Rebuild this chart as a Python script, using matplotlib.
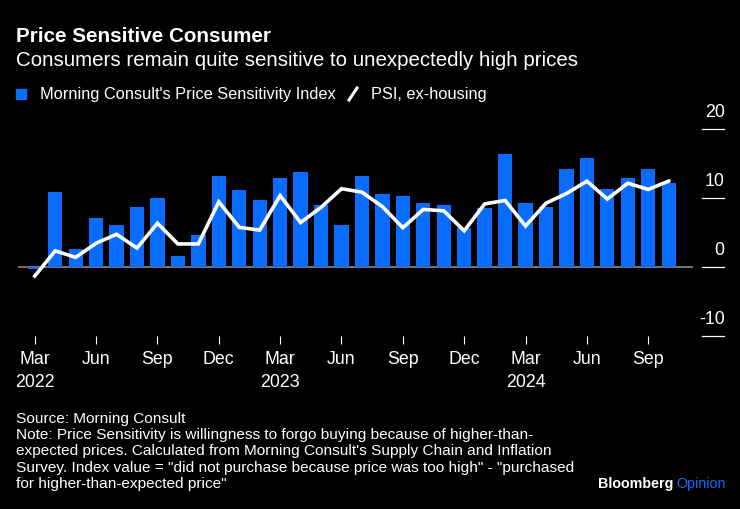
import matplotlib.pyplot as plt
from matplotlib.patches import Rectangle
from matplotlib.lines import Line2D
import matplotlib.transforms as mtransforms

plt.rcParams['font.family'] = ['Liberation Sans', 'DejaVu Sans']

# monthly, Mar 2022 .. Oct 2024
psi = [-0.3, 10.8, 2.6, 7.0, 6.0, 8.7, 10.0, 1.5, 4.6, 13.1, 11.1, 9.7,
       12.9, 13.7, 9.0, 6.0, 13.1, 10.6, 10.2, 9.3, 8.9, 5.6, 8.5, 16.4,
       9.3, 8.6, 14.2, 15.7, 11.2, 12.9, 14.1, 12.2]
psi_ex_housing = [-1.35, 2.3, 1.35, 3.4, 4.7, 2.7, 6.3, 3.3, 3.3, 9.4, 5.7, 5.3,
                  10.3, 6.4, 8.6, 11.3, 10.8, 8.7, 5.65, 8.3, 8.1, 5.2, 9.1, 9.6,
                  5.9, 9.2, 10.6, 12.4, 9.8, 12.1, 11.2, 12.4]
tick_labels = ['Mar\n2022', 'Jun', 'Sep', 'Dec', 'Mar\n2023', 'Jun', 'Sep', 'Dec',
               'Mar\n2024', 'Jun', 'Sep']
y_ticks = [-10, 0, 10, 20]

BLUE = '#0a6cff'
BG = '#000000'

fig = plt.figure(figsize=(7.4, 5.09), dpi=100, facecolor=BG)
ax = fig.add_axes([18/740, 1 - 335.7/509, 675/740, (335.7 - 128.7)/509])
ax.set_facecolor(BG)

x = list(range(len(psi)))
ax.bar(x, psi, width=0.7, color=BLUE, zorder=2)
ax.plot(x, psi_ex_housing, color='white', lw=2.6, zorder=3, solid_joinstyle='miter')
ax.axhline(0, color='#8a8a8a', lw=1.2, zorder=1)

ax.set_xlim(-0.82, 32.19)
ax.set_ylim(-10, 20)
for s in ax.spines.values():
    s.set_visible(False)

ax.set_xticks(list(range(0, 31, 3)))
ax.set_xticklabels(tick_labels, color='white', fontsize=12.8, linespacing=1.45)
ax.tick_params(axis='x', colors='white', length=6, width=0.8, pad=5, labelcolor='white')
ax.set_yticks([])

# right side y labels with short rule under each
trans = mtransforms.blended_transform_factory(ax.transAxes, ax.transData)
for v in y_ticks:
    ax.text(1.047, v + 1.1, str(v), transform=trans, ha='right', va='bottom',
            color='white', fontsize=12.8)
    ax.add_line(Line2D([1.013, 1.046], [v, v], transform=trans, color='white',
                       lw=0.9, clip_on=False))

# titles
fig.text(16/740, 1 - 36/509, 'Price Sensitive Consumer', color='white',
         fontsize=14.9, fontweight='bold', va='center')
fig.text(16/740, 1 - 60/509, 'Consumers remain quite sensitive to unexpectedly high prices',
         color='white', fontsize=14.8, va='center')

# legend
fig.patches.append(Rectangle((16/740, 1 - 99/509), 10/740, 10/509,
                             transform=fig.transFigure, color=BLUE))
fig.text(40/740, 1 - 94/509, "Morning Consult's Price Sensitivity Index", color='white',
         fontsize=11.8, va='center')
fig.lines.append(Line2D([349/740, 357/740], [1 - 100/509, 1 - 88/509],
                        transform=fig.transFigure, color='white', lw=2.2))
fig.text(371/740, 1 - 94/509, 'PSI, ex-housing', color='white', fontsize=11.8, va='center')

# footer
footer = ('Source: Morning Consult\n'
          'Note: Price Sensitivity is willingness to forgo buying because of higher-than-\n'
          'expected prices. Calculated from Morning Consult\'s Supply Chain and Inflation\n'
          'Survey. Index value = "did not purchase because price was too high" - "purchased\n'
          'for higher-than-expected price"')
fig.text(16/740, 1 - 412/509, footer, color='white', fontsize=11.1, va='top',
         linespacing=1.2)

t = fig.text(598/740, 1 - 484/509, 'Bloomberg', color='white', fontsize=10.3,
             fontweight='bold', va='center')
fig.canvas.draw()
bb = t.get_window_extent()
fig.text(bb.x1 / 740 + 3/740, 1 - 484/509, 'Opinion', color=BLUE, fontsize=10.3, va='center')

fig.savefig('out.png', dpi=100, facecolor=BG)
